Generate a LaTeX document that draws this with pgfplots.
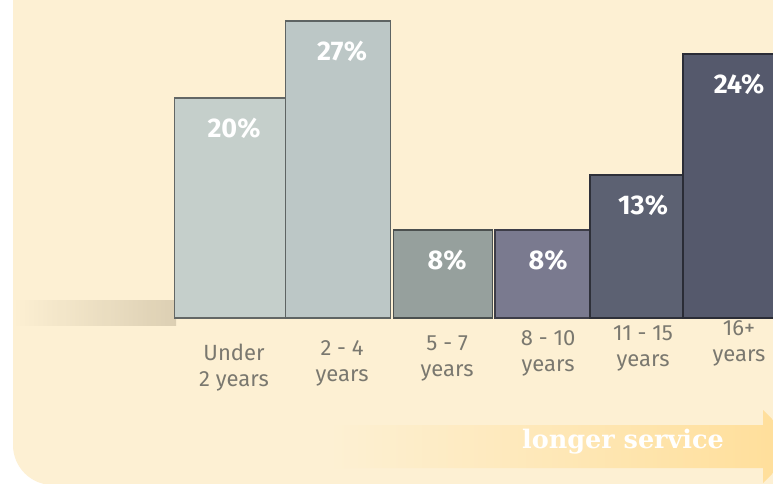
\documentclass[border=0pt]{standalone}
\usepackage{pgfplots}
\pgfplotsset{compat=1.18}
\usepackage{fontspec}
\setmainfont{Fira Sans}
\newfontfamily\slabfont{DejaVu Serif}

\definecolor{panel}{HTML}{FDF0D3}
\definecolor{shadow}{HTML}{D9CCB0}
\definecolor{arrowc}{HTML}{FFDE98}
\definecolor{labelgrey}{HTML}{7A786F}
\definecolor{c1}{HTML}{C5CFCB}
\definecolor{c2}{HTML}{BCC7C6}
\definecolor{c3}{HTML}{96A09D}
\definecolor{c4}{HTML}{7A7A8F}
\definecolor{c5}{HTML}{5C6172}
\definecolor{c6}{HTML}{55596C}

\begin{document}
\begin{tikzpicture}
\useasboundingbox (0pt,0pt) rectangle (773pt,483pt);
\clip (0pt,0pt) rectangle (773pt,483pt);
\fill[white] (0pt,0pt) rectangle (773pt,483pt);
\fill[panel, rounded corners=40pt] (13pt,-2pt) rectangle (840pt,560pt);
% floor shadow left of the first bar
\shade[left color=panel, right color=shadow, opacity=0.9] (13pt,158pt) rectangle (176pt,183pt);
% "longer service" arrow
\shade[left color=panel, right color=arrowc]
  (330pt,15pt) -- (763pt,15pt) -- (763pt,0pt) -- (800pt,36.5pt)
  -- (763pt,73pt) -- (763pt,58pt) -- (330pt,58pt) -- cycle;
\node[text=white, font=\slabfont\bfseries\fontsize{25.5}{26}\selectfont] at (623pt,41pt) {longer service};

\begin{axis}[
    at={(0pt,0pt)}, anchor=south west,
    scale only axis,
    width=773pt, height=483pt,
    xmin=-2.277, xmax=5.376,
    ymin=-15, ymax=28.909,
    axis x line=middle, axis y line=none,
    x axis line style={draw=none},
    ytick=\empty,
    xtick={0,1.07,2.11,3.11,4.05,5},
    xticklabels={{Under\\2 years},{2 - 4\\years},{5 - 7\\years},{8 - 10\\years},{11 - 15\\years},{16+\\years}},
    major tick length=0pt,
    xticklabel style={align=center, anchor=center, text=labelgrey,
        font=\fontsize{22}{26}\selectfont,
        xshift=4pt, yshift=-50pt+5pt*\ticknum},
    /pgf/number format/assume math mode=true,
    ybar, bar shift=0pt,
    nodes near coords={\pgfmathprintnumber{\pgfplotspointmeta}\%},
    every node near coord/.append style={anchor=center, yshift=-30pt, xshift=4pt,
        text=white, font=\bfseries\fontsize{27}{27}\selectfont},
]
\addplot[fill=c1, draw=c1!50!black, line width=1.5pt, bar width=111pt] coordinates {(0,20)};
\addplot[fill=c2, draw=c2!50!black, line width=1.5pt, bar width=105pt] coordinates {(1.07,27)};
\addplot[fill=c3, draw=c3!50!black, line width=1.5pt, bar width=99pt] coordinates {(2.11,8)};
\addplot[fill=c4, draw=c4!50!black, line width=1.5pt, bar width=98pt] coordinates {(3.11,8)};
\addplot[fill=c5, draw=c5!50!black, line width=1.5pt, bar width=98pt] coordinates {(4.05,13)};
\addplot[fill=c6, draw=c6!50!black, line width=1.5pt, bar width=104pt] coordinates {(5,24)};
\end{axis}
\end{tikzpicture}
\end{document}
